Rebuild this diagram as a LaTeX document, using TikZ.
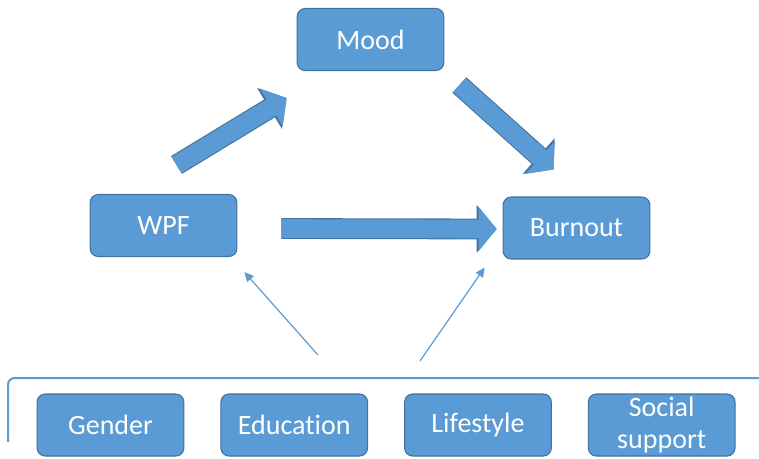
\documentclass[tikz,border=0pt]{standalone}
\usepackage{fontspec}
\setmainfont[Ligatures=NoCommon]{Carlito}
\usetikzlibrary{positioning,arrows.meta,calc}
\definecolor{boxblue}{HTML}{5B9BD5}
\definecolor{edgeblue}{HTML}{41719C}
\tikzset{
  factor/.style={draw=edgeblue, line width=0.8pt, fill=boxblue, rounded corners=6pt, minimum width=110pt, minimum height=46.5pt, inner sep=0pt, text=white, align=center, font=\fontsize{21}{24}\selectfont},
  fatarrow/.style={preaction={draw=edgeblue, line width=15.6pt, -{Triangle[length=15pt,width=35pt]}}, draw=boxblue, line width=14pt, -{Triangle[length=13.5pt,width=32.5pt]}},
  thinarrow/.style={draw=boxblue, line width=0.9pt, -{Triangle[length=7pt,width=6.5pt]}}
}
\begin{document}
\begin{tikzpicture}[x=0.75pt, y=-0.75pt]
    \useasboundingbox (0,0) rectangle (759,458);
    % main factors
    \node[factor] (mood) at (370.5,39.5) {Mood};
    \node[factor] (wpf) at (163.5,225.5) {WPF};
    \node[factor] (burnout) at (576.5,228) {Burnout};
    % covariates
    \node[factor] (gender) at (110.5,425) {Gender};
    \node[factor] (education) [right=27pt of gender] {Education};
    \node[factor] (lifestyle) [right=27pt of education] {Lifestyle};
    \node[factor] (social) [right=27pt of lifestyle] {Social\\support};
    % bracket over the covariates
    \draw[boxblue, line width=1.5pt, rounded corners=5pt] (8,442) |- (759,378);
    \coordinate (c1) at (318,355);
    \coordinate (c2) at (420,361);
    % paths
    \draw[fatarrow] ([shift={(13,-29)}]wpf.north) -- ([shift={(-10,27)}]mood.south west);
    \draw[fatarrow] ([shift={(15,14)}]mood.south east) -- ([shift={(-23,-27)}]burnout.north);
    \draw[fatarrow] ([shift={(44,3)}]wpf.east) -- ([shift={(-6,1)}]burnout.west);
    \draw[thinarrow] (c1) -- ([shift={(7,15)}]wpf.south east);
    \draw[thinarrow] (c2) -- ([shift={(-18,8)}]burnout.south west);
\end{tikzpicture}
\end{document}
